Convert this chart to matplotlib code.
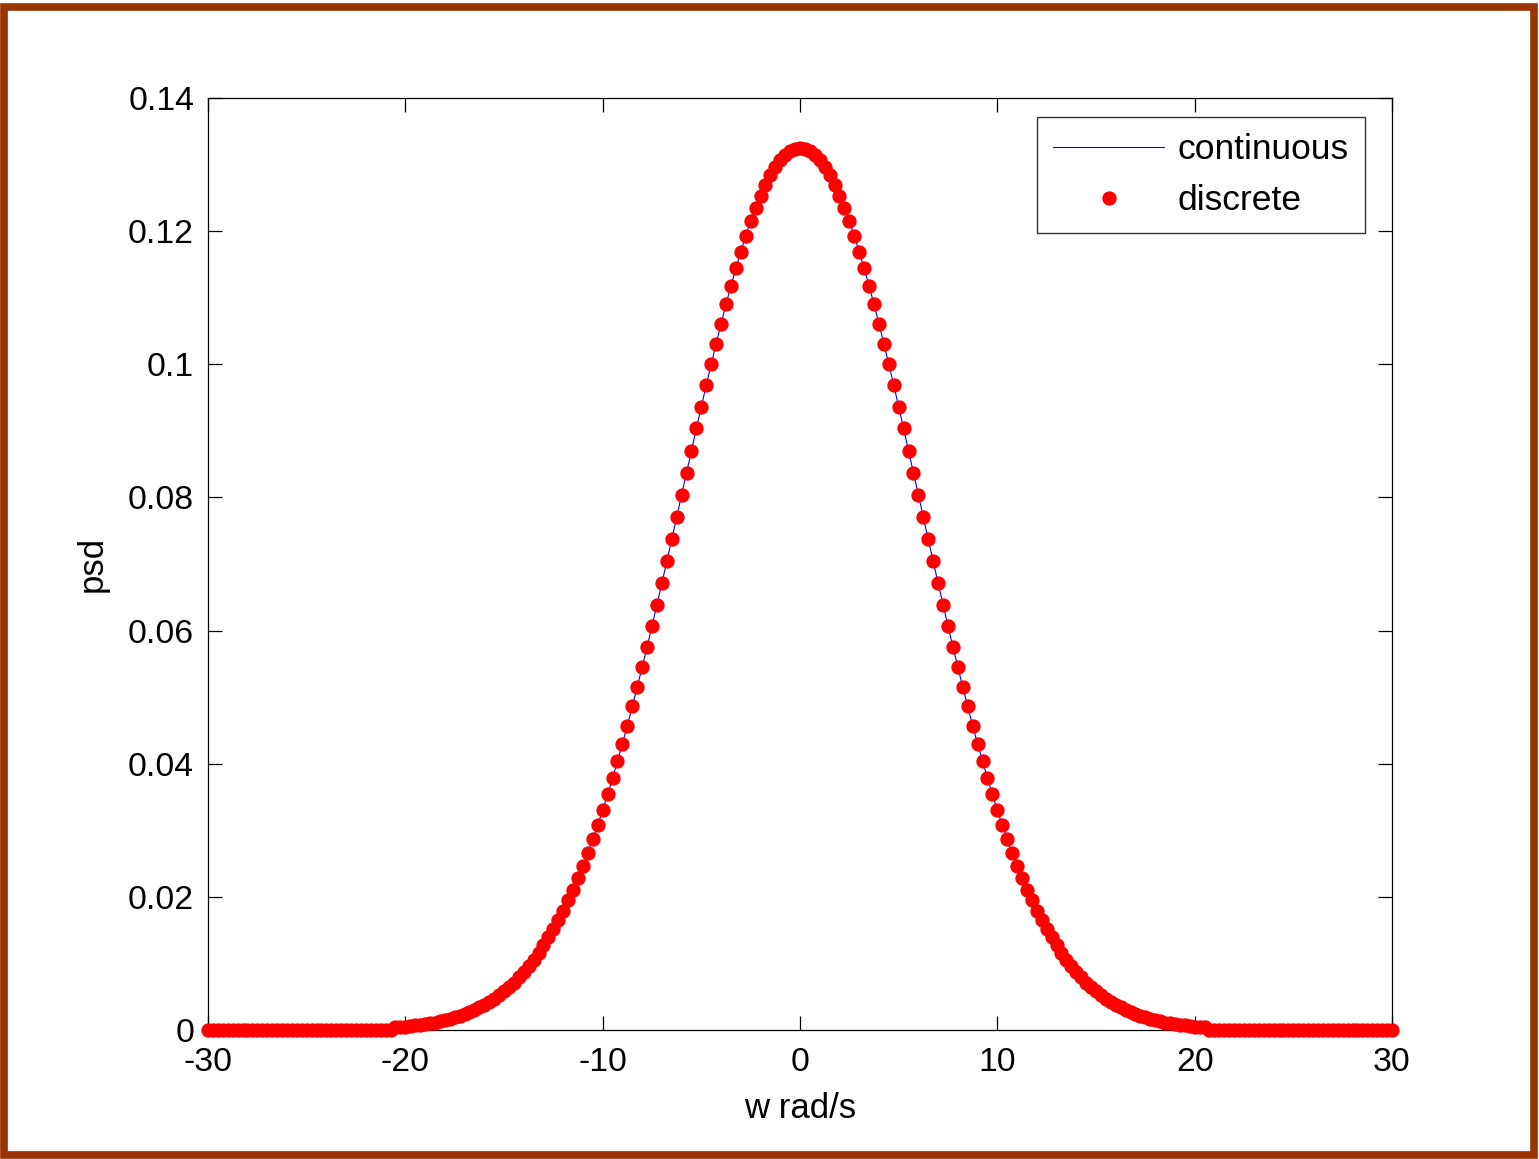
import numpy as np
import matplotlib
matplotlib.use("Agg")
import matplotlib.pyplot as plt
from matplotlib.patches import Rectangle

plt.rcParams['font.family'] = ['Liberation Sans', 'DejaVu Sans']
plt.rcParams['axes.unicode_minus'] = False

# ---- data ----
w_min, w_max, w_step = -30.0, 30.0, 0.25
# psd values for w = 0, 0.25, 0.5, ..., 30 (curve is symmetric about w = 0)
psd_half = [
    0.1325, 0.1324, 0.1320, 0.1315, 0.1307, 0.1297, 0.1284, 0.1270,
    0.1253, 0.1235, 0.1215, 0.1193, 0.1169, 0.1144, 0.1118, 0.1090,
    0.1061, 0.1031, 0.1000, 0.0969, 0.0936, 0.0904, 0.0870, 0.0837,
    0.0804, 0.0770, 0.0737, 0.0704, 0.0671, 0.0639, 0.0607, 0.0575,
    0.0545, 0.0515, 0.0486, 0.0457, 0.0430, 0.0404, 0.0378, 0.0354,
    0.0330, 0.0308, 0.0287, 0.0266, 0.0247, 0.0228, 0.0211, 0.0195,
    0.0179, 0.0165, 0.0151, 0.0139, 0.0127, 0.0116, 0.0105, 0.0096,
    0.0087, 0.0079, 0.0071, 0.0065, 0.0058, 0.0052, 0.0047, 0.0042,
    0.0038, 0.0034, 0.0030, 0.0027, 0.0024, 0.0021, 0.0019, 0.0017,
    0.0015, 0.0013, 0.0011, 0.0010, 0.0009, 0.0008, 0.0007, 0.0006,
    0.0005, 0.0004, 0.0004,
] + [0.0] * 38

xticks = [-30, -20, -10, 0, 10, 20, 30]
xtick_labels = ['-30', '-20', '-10', '0', '10', '20', '30']
yticks = [0, 0.02, 0.04, 0.06, 0.08, 0.1, 0.12, 0.14]
ytick_labels = ['0', '0.02', '0.04', '0.06', '0.08', '0.1', '0.12', '0.14']
series_names = ['continuous', 'discrete']

# ---- build the full symmetric series ----
half = np.array(psd_half)
psd = np.concatenate([half[:0:-1], half])
n = len(psd)
w = np.linspace(w_min, w_max, n)

# ---- figure ----
W, H = 1539, 1159
fig = plt.figure(figsize=(W / 100, H / 100), dpi=100)
fig.patch.set_facecolor('white')

# brown frame around the whole picture
fig.add_artist(Rectangle((4 / W, (H - 1155) / H), (1534 - 4) / W, (1155 - 7) / H,
                         transform=fig.transFigure, fill=False,
                         edgecolor='#993300', linewidth=5.5))

ax = fig.add_axes([208 / W, (H - 1030) / H, 1184 / W, 932 / H])

ax.plot(w, psd, color='#0000ff', linewidth=0.8, label=series_names[0], zorder=2)
ax.plot(w, psd, linestyle='none', marker='o', markersize=9.3,
        markerfacecolor='#ff0000', markeredgecolor='#ff0000',
        label=series_names[1], zorder=3, clip_on=False)

ax.set_xlim(w_min, w_max)
ax.set_ylim(0, 0.14)
ax.set_xticks(xticks)
ax.set_xticklabels(xtick_labels)
ax.set_yticks(yticks)
ax.set_yticklabels(ytick_labels)

ax.tick_params(direction='in', length=10, width=0.9, top=True, right=True,
               labelsize=24.3, colors='black')
ax.tick_params(axis='x', pad=12)
ax.tick_params(axis='y', pad=10)
for s in ax.spines.values():
    s.set_linewidth(0.9)
    s.set_color('black')

ax.set_xlabel('w rad/s', fontsize=25, labelpad=10)
ax.set_ylabel('psd', fontsize=25, labelpad=14)

leg = ax.legend(loc='upper right', bbox_to_anchor=(1365 / W, (H - 117) / H),
                bbox_transform=fig.transFigure, fontsize=25.5, frameon=True,
                fancybox=False, shadow=False, handlelength=3.15,
                borderpad=0.45, labelspacing=0.52, handletextpad=0.38,
                borderaxespad=0)
leg.get_frame().set_edgecolor('black')
leg.get_frame().set_linewidth(1.0)

fig.savefig('out.png', dpi=100, facecolor='white')
